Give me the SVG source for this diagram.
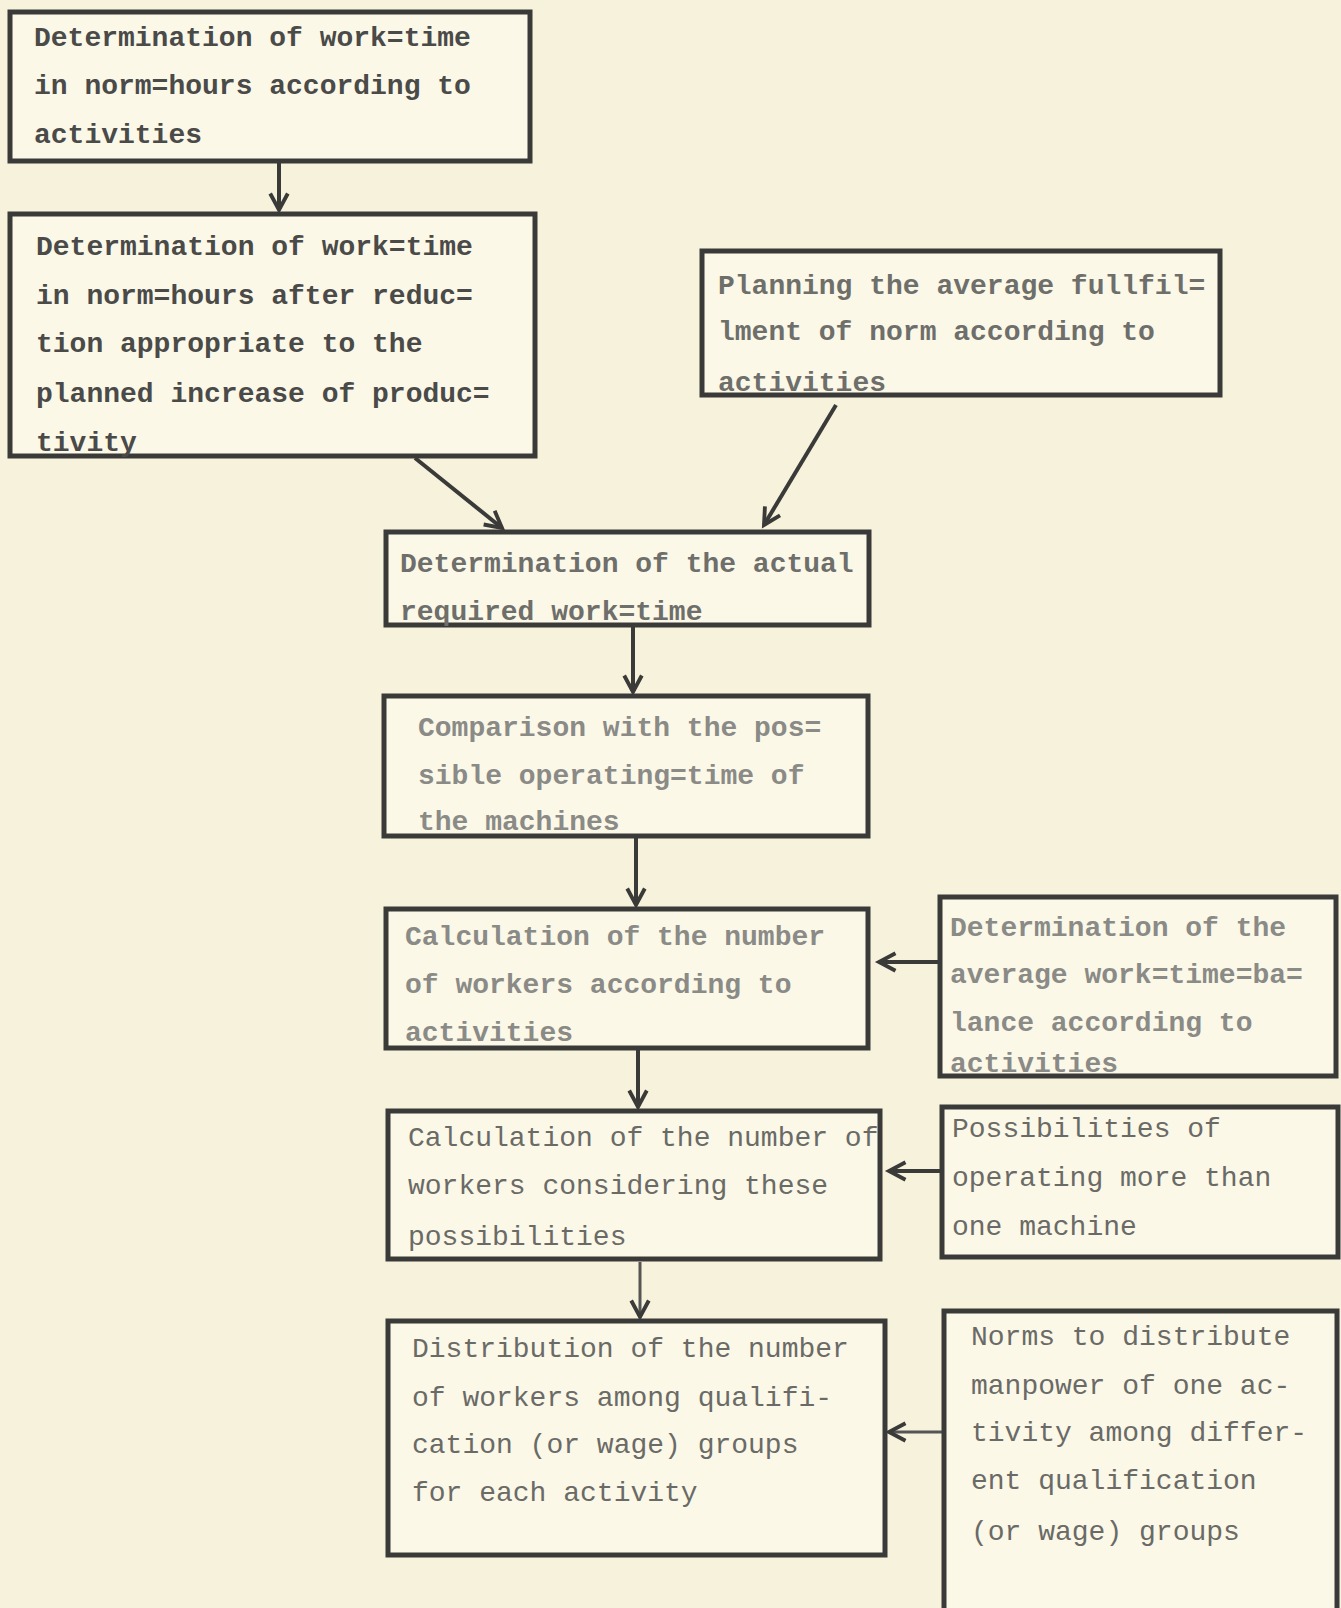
<svg xmlns="http://www.w3.org/2000/svg" width="1341" height="1608" viewBox="0 0 1341 1608">
<style>
.bg{fill:#f7f2dc}
.box{fill:#fbf8e8;stroke:#3a3a38;stroke-width:5}
.t{font-family:"Liberation Mono","DejaVu Sans Mono",monospace;font-size:28px}
.dark{fill:#4a4a48;font-weight:bold}
.mid{fill:#6e6e6a;font-weight:bold}
.light{fill:#8a8a86;font-weight:bold}
.cour{fill:#6a6a66}
.conn{stroke:#3a3a38;stroke-width:4;fill:none}
.thin{stroke:#555;stroke-width:3;fill:none}
</style>
<defs>
<marker id="ah" viewBox="0 0 20 20" refX="18" refY="10" markerWidth="22" markerHeight="22" markerUnits="userSpaceOnUse" orient="auto" style="overflow:visible">
<path d="M3,2 L18,10 L3,18" fill="none" stroke="#3a3a38" stroke-width="3.5"/>
</marker>
</defs>
<rect class="bg" x="0" y="0" width="1341" height="1608"/>

<g id="connectors">
<line class="conn" x1="279" y1="161" x2="279" y2="210" marker-end="url(#ah)"/>
<line class="conn" x1="415" y1="458" x2="502" y2="528" marker-end="url(#ah)"/>
<line class="conn" x1="836" y1="405" x2="764" y2="525" marker-end="url(#ah)"/>
<line class="conn" x1="633" y1="625" x2="633" y2="692" marker-end="url(#ah)"/>
<line class="conn" x1="636" y1="836" x2="636" y2="905" marker-end="url(#ah)"/>
<line class="conn" x1="638" y1="1048" x2="638" y2="1107" marker-end="url(#ah)"/>
<line class="thin" x1="640" y1="1262" x2="640" y2="1317" marker-end="url(#ah)"/>
<line class="conn" x1="940" y1="962" x2="879" y2="962" marker-end="url(#ah)"/>
<line class="conn" x1="942" y1="1171" x2="889" y2="1171" marker-end="url(#ah)"/>
<line class="thin" x1="944" y1="1432" x2="889" y2="1432" marker-end="url(#ah)"/>
</g>

<g id="n1">
<rect class="box" x="10" y="12" width="520" height="149"/>
<text class="t dark" x="34" y="46">Determination of work=time</text>
<text class="t dark" x="34" y="94">in norm=hours according to</text>
<text class="t dark" x="34" y="143">activities</text>
</g>

<g id="n2">
<rect class="box" x="10" y="214" width="525" height="242"/>
<text class="t dark" x="36" y="255">Determination of work=time</text>
<text class="t dark" x="36" y="304">in norm=hours after reduc=</text>
<text class="t dark" x="36" y="352">tion appropriate to the</text>
<text class="t dark" x="36" y="402">planned increase of produc=</text>
<text class="t dark" x="36" y="451">tivity</text>
</g>

<g id="n3">
<rect class="box" x="702" y="251" width="518" height="144"/>
<text class="t mid" x="718" y="294">Planning the average fullfil=</text>
<text class="t mid" x="718" y="340">lment of norm according to</text>
<text class="t mid" x="718" y="391">activities</text>
</g>

<g id="n4">
<rect class="box" x="386" y="532" width="483" height="93"/>
<text class="t mid" x="400" y="572">Determination of the actual</text>
<text class="t mid" x="400" y="620">required work=time</text>
</g>

<g id="n5">
<rect class="box" x="384" y="696" width="484" height="140"/>
<text class="t light" x="418" y="736">Comparison with the pos=</text>
<text class="t light" x="418" y="784">sible operating=time of</text>
<text class="t light" x="418" y="830">the machines</text>
</g>

<g id="n6">
<rect class="box" x="386" y="909" width="482" height="139"/>
<text class="t light" x="405" y="945">Calculation of the number</text>
<text class="t light" x="405" y="993">of workers according to</text>
<text class="t light" x="405" y="1041">activities</text>
</g>

<g id="n7">
<rect class="box" x="940" y="897" width="396" height="179"/>
<text class="t light" x="950" y="936">Determination of the</text>
<text class="t light" x="950" y="983">average work=time=ba=</text>
<text class="t light" x="950" y="1031">lance according to</text>
<text class="t light" x="950" y="1072">activities</text>
</g>

<g id="n8">
<rect class="box" x="388" y="1111" width="492" height="148"/>
<text class="t cour" x="408" y="1146">Calculation of the number of</text>
<text class="t cour" x="408" y="1194">workers considering these</text>
<text class="t cour" x="408" y="1245">possibilities</text>
</g>

<g id="n9">
<rect class="box" x="942" y="1107" width="396" height="150"/>
<text class="t cour" x="952" y="1137">Possibilities of</text>
<text class="t cour" x="952" y="1186">operating more than</text>
<text class="t cour" x="952" y="1235">one machine</text>
</g>

<g id="n10">
<rect class="box" x="388" y="1321" width="497" height="234"/>
<text class="t cour" x="412" y="1357">Distribution of the number</text>
<text class="t cour" x="412" y="1406">of workers among qualifi-</text>
<text class="t cour" x="412" y="1453">cation (or wage) groups</text>
<text class="t cour" x="412" y="1501">for each activity</text>
</g>

<g id="n11">
<rect class="box" x="944" y="1311" width="393" height="300"/>
<text class="t cour" x="971" y="1345">Norms to distribute</text>
<text class="t cour" x="971" y="1394">manpower of one ac-</text>
<text class="t cour" x="971" y="1441">tivity among differ-</text>
<text class="t cour" x="971" y="1489">ent qualification</text>
<text class="t cour" x="971" y="1540">(or wage) groups</text>
</g>
</svg>
